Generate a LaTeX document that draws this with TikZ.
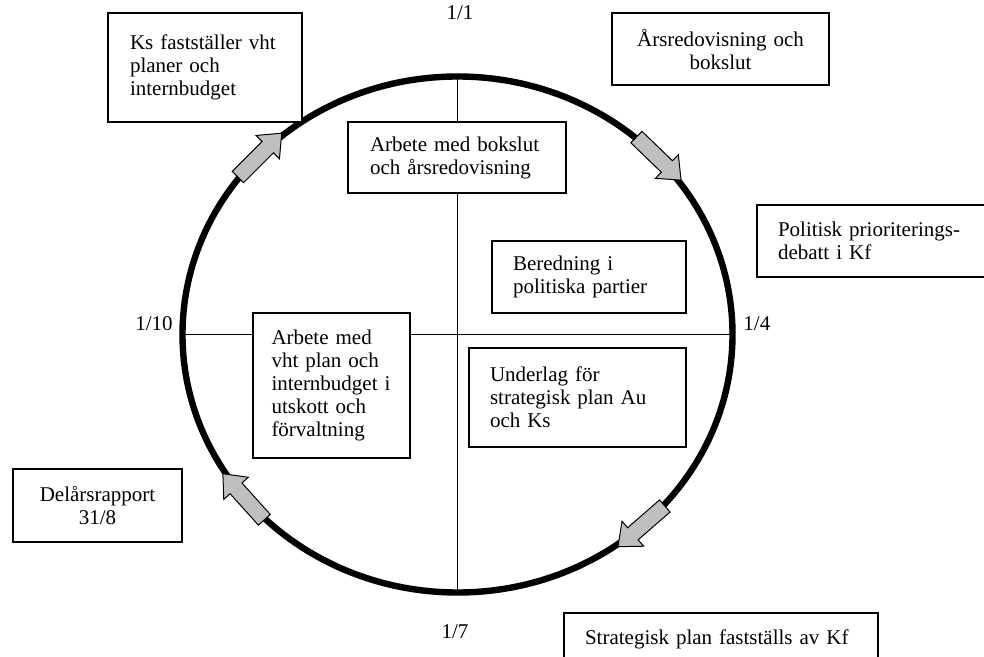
\documentclass[tikz,border=0pt]{standalone}
\usepackage{fontspec}
\setmainfont{Liberation Serif}
\usetikzlibrary{shapes.arrows}

\tikzset{
  card/.style={draw, line width=0.8pt, fill=white, inner sep=0pt, align=left,
    font=\fontsize{10.5pt}{11.5pt}\selectfont},
  turn/.style={single arrow, draw, line width=0.5pt, fill=gray!50, minimum height=31pt,
    inner xsep=0pt, inner ysep=3.75pt, single arrow head extend=4.25pt, single arrow tip angle=80},
  datum/.style={inner sep=0pt, font=\fontsize{10.5pt}{11.5pt}\selectfont}
}

\begin{document}
\begin{tikzpicture}[x=0.5pt, y=-0.5pt]

        \useasboundingbox (0,0) rectangle (984,657);
        \clip (0,0) rectangle (984,657);

        \coordinate (c) at (457.5,334.5);
        \coordinate (top) at (457.5,76.5);
        \coordinate (bottom) at (457.5,592.5);
        \coordinate (left) at (182.5,334.5);
        \coordinate (right) at (732.5,334.5);

        \draw[line width=0.7pt] (top) -- (bottom);
        \draw[line width=0.7pt] (left) -- (right);
        \draw[line width=3.2pt] (c) ellipse [x radius=137.5pt, y radius=129pt];

        \node[datum, anchor=base] (jan) at (460,20) {1/1};
        \node[datum, anchor=base west] (apr) at (743,330) {1/4};
        \node[datum, anchor=base] (jul) at (455,638) {1/7};
        \node[datum, anchor=base east] (okt) at (173,331) {1/10};

        \node[card, minimum width=97pt, minimum height=54.5pt, text width=75pt] (ks) at (205,67.5) {Ks fastställer vht\\planer och\\internbudget};
        \node[card, align=center, minimum width=108.5pt, minimum height=36pt, text width=86.5pt] (ars) at (720.5,49) {Årsredovisning och\\bokslut};
        \node[card, minimum width=116.5pt, minimum height=36pt, text width=95.5pt] (pol) at (873.5,241) {Politisk prioriterings-\\debatt i Kf};
        \node[card, align=center, minimum width=84.5pt, minimum height=36.5pt, text width=70pt] (del) at (97.5,505.5) {Delårsrapport\\31/8};
        \node[card, minimum width=78.5pt, minimum height=72.5pt, text width=60pt] (vht) at (331.5,385.5) {Arbete med\\vht plan och\\internbudget i\\utskott och\\förvaltning};
        \node[card, minimum width=109pt, minimum height=35.5pt, text width=87pt] (bok) at (457,157.5) {Arbete med bokslut\\och årsredovisning};
        \node[card, minimum width=97pt, minimum height=36pt, text width=76pt] (ber) at (589,277) {Beredning i\\politiska partier};
        \node[card, minimum width=108.5pt, minimum height=49.5pt, text width=87.5pt] (und) at (577.5,397.5) {Underlag för\\strategisk plan Au\\och Ks};
        \node[card, minimum width=157pt, minimum height=26pt, text width=136pt] (str) at (721,639) {Strategisk plan fastställs av Kf};

        \node[turn, rotate=45] (a1) at (256.4,158.5) {};
        \node[turn, rotate=-44] (a2) at (655.3,155.3) {};
        \node[turn, rotate=221] (a3) at (645,523.2) {};
        \node[turn, rotate=132] (a4) at (246.8,500.3) {};

\end{tikzpicture}
\end{document}
